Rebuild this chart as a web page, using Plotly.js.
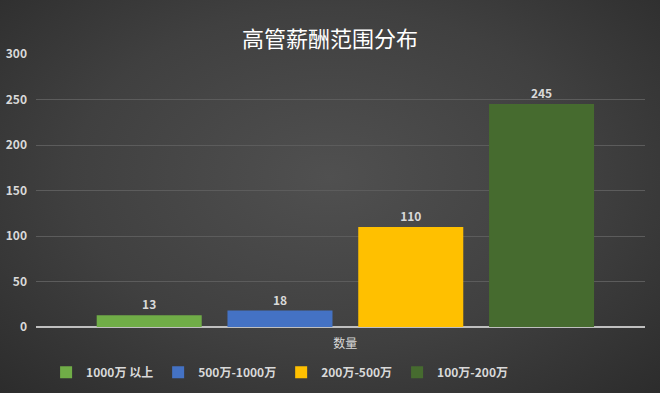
<!DOCTYPE html>
<html><head><meta charset="utf-8">
<script src="https://cdn.plot.ly/plotly-3.0.1.min.js"></script>
<style>
html,body{margin:0;padding:0;}
#chart{width:660px;height:393px;background:radial-gradient(ellipse at 50% 45%, #505050 0%, #404040 55%, #2c2c2c 100%);}
</style></head>
<body><div id="chart"></div>
<script>
const category = ["数量"];
const seriesNames = ["1000万 以上", "500万-1000万", "200万-500万", "100万-200万"];
const seriesValues = [13, 18, 110, 245];
const seriesColors = ["#70AD47", "#4472C4", "#FFC000", "#466B2F"];
const yTicks = [0, 50, 100, 150, 200, 250, 300];

const font = "'Noto Sans CJK SC', 'Noto Sans', sans-serif";
const traces = seriesNames.map((n, i) => ({
  type: "bar",
  name: n,
  x: category,
  y: [seriesValues[i]],
  marker: {color: seriesColors[i], line: {width: 0}},
  text: [String(seriesValues[i])],
  textposition: "outside",
  cliponaxis: false,
  textfont: {color: "#d9d9d9", size: 12, family: font, weight: "bold"},
  hoverinfo: "none"
}));

const layout = {
  width: 660, height: 393,
  paper_bgcolor: "rgba(0,0,0,0)",
  plot_bgcolor: "rgba(0,0,0,0)",
  margin: {l: 36, r: 15, t: 54, b: 66, autoexpand: false},
  title: {text: "高管薪酬范围分布", font: {color: "#ffffff", size: 22, family: font}, x: 0.5, xanchor: "center", y: 0.9, yanchor: "middle"},
  barmode: "group",
  bargap: 0.141,
  bargroupgap: 0.197,
  showlegend: true,
  legend: {orientation: "h", x: 0.4, xanchor: "center", xref: "paper",
    yref: "container", y: 0.053, yanchor: "middle",
    font: {color: "#d9d9d9", size: 12, family: font, weight: "bold"},
    traceorder: "normal"},
  xaxis: {range: [-0.508, 0.492], showgrid: false, zeroline: false, showline: false,
    tickfont: {color: "#d9d9d9", size: 12, family: font}, ticks: "", ticklabelstandoff: 8},
  yaxis: {range: [0, 300], tickvals: yTicks, ticktext: yTicks.map(String),
    showgrid: true, gridcolor: "#5c5c5c", gridwidth: 1,
    zeroline: true, zerolinecolor: "#bfbfbf", zerolinewidth: 2,
    showline: false, ticks: "", ticklabelstandoff: 8,
    tickfont: {color: "#d9d9d9", size: 12, family: font, weight: "bold"}}
};

Plotly.newPlot("chart", traces, layout, {displayModeBar: false, staticPlot: true});
</script></body></html>
